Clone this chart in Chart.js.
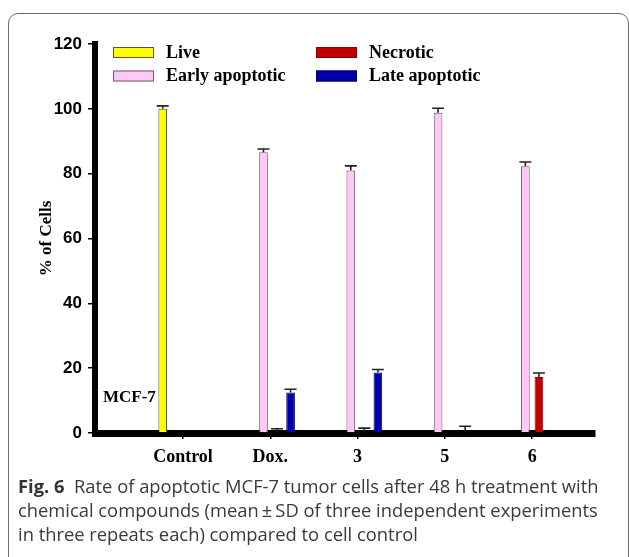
<!DOCTYPE html>
<html>
<head>
<meta charset="utf-8">
<script src="https://cdn.jsdelivr.net/npm/chart.js@4/dist/chart.umd.min.js"></script>
<style>
  html, body { margin:0; padding:0; background:#fff; width:629px; height:557px; overflow:hidden; }
  #frame { position:absolute; left:8px; top:13px; width:619px; height:600px; border:1px solid #6a6a6a; border-radius:10px; box-sizing:content-box; }
  #wrap { position:absolute; left:0; top:0; width:629px; height:485px; }
  #caption { position:absolute; left:18px; top:474px; font-family:"Open Sans", "Noto Sans", sans-serif; font-size:18.35px; line-height:23.8px; color:#3a3a3a; white-space:nowrap; }
  #caption b { font-weight:700; color:#333; }
</style>
</head>
<body>
<div id="frame"></div>
<div id="wrap"><canvas id="c" width="629" height="485"></canvas></div>
<div id="caption"><b>Fig. 6</b>&nbsp; Rate of apoptotic MCF-7 tumor cells after 48 h treatment with<br>chemical compounds (mean&#8201;&plusmn;&#8201;SD of three independent experiments<br>in three repeats each) compared to cell control</div>
<script>
// ---- data ----
const categories = ['Control', 'Dox.', '3', '5', '6'];
const seriesNames = ['Live', 'Early apoptotic', 'Necrotic', 'Late apoptotic'];
const liveVals      = [100,  null, null, null, null];
const liveErr       = [0.9,  null, null, null, null];
const earlyVals     = [null, 86.6, 81.0, 98.8, 82.3];
const earlyErr      = [null, 1.0,  1.4,  1.4,  1.3];
const necroticVals  = [null, 0.4,  0.4,  null, 17.3];
const necroticErr   = [null, 0.9,  1.1,  null, 1.2];
const lateVals      = [null, 12.5, 18.7, 0.5,  null];
const lateErr       = [null, 1.0,  0.9,  1.6,  null];
const yTicks = [0, 20, 40, 60, 80, 100, 120];
const yTitle = '% of Cells';
const cellLine = 'MCF-7';

const values = [liveVals, earlyVals, necroticVals, lateVals];
const errors = [liveErr, earlyErr, necroticErr, lateErr];
const fills   = ['#ffff00', '#ffc8f6', '#c00000', '#0000a8'];
const borders = ['#5a5a30', '#6a5a6a', '#8a0000', '#000060'];

const datasets = seriesNames.map((name, k) => ({
  label: name,
  data: categories.map((c, i) => ({ x: i, y: values[k][i] })),
  errors: errors[k],
  backgroundColor: fills[k],
  borderColor: borders[k],
  borderWidth: 1,
  categoryPercentage: 0.62,
  barPercentage: 0.64
}));

const serif = '"Liberation Serif", "Times New Roman", serif';
const sans = '"Liberation Sans", Arial, sans-serif';

const errorBarPlugin = {
  id: 'errorBars',
  afterDraw(chart) {
    const ctx = chart.ctx;
    const ys = chart.scales.y;
    ctx.save();
    ctx.strokeStyle = '#222';
    ctx.lineWidth = 1.6;
    chart.data.datasets.forEach((ds, k) => {
      const meta = chart.getDatasetMeta(k);
      meta.data.forEach((el, i) => {
        const v = ds.data[i].y;
        const e = ds.errors[i];
        if (v == null || e == null) return;
        const y0 = ys.getPixelForValue(v);
        const y1 = ys.getPixelForValue(v + e);
        ctx.beginPath();
        ctx.moveTo(el.x, y0);
        ctx.lineTo(el.x, y1);
        ctx.moveTo(el.x - 6, y1);
        ctx.lineTo(el.x + 6, y1);
        ctx.stroke();
      });
    });
    ctx.restore();
  }
};

const legendPlugin = {
  id: 'boxLegend',
  afterDraw(chart) {
    const ctx = chart.ctx;
    const a = chart.chartArea;
    ctx.save();
    ctx.font = 'bold 18px ' + serif;
    ctx.textBaseline = 'middle';
    ctx.fillStyle = '#000';
    chart.data.datasets.forEach((ds, k) => {
      const col = Math.floor(k / 2), row = k % 2;
      const bx = a.left + 18 + col * 203;
      const by = 47 + row * 23.5;
      ctx.fillStyle = ds.backgroundColor;
      ctx.fillRect(bx, by, 41, 11);
      ctx.strokeStyle = ds.borderColor;
      ctx.lineWidth = 1;
      ctx.strokeRect(bx + 0.5, by + 0.5, 40, 10);
      ctx.fillStyle = '#000';
      ctx.fillText(ds.label, bx + 53, by + 6);
    });
    ctx.font = 'bold 17px ' + serif;
    ctx.fillText(cellLine, a.left + 8, chart.scales.y.getPixelForValue(10.8));
    ctx.restore();
  }
};

new Chart(document.getElementById('c'), {
  type: 'bar',
  data: { datasets },
  options: {
    responsive: false,
    animation: false,
    devicePixelRatio: 1,
    layout: { padding: { top: 44, right: 34, left: 0, bottom: 0 } },
    plugins: { legend: { display: false }, tooltip: { enabled: false } },
    scales: {
      x: {
        type: 'linear',
        offset: false,
        min: -1.008,
        max: 4.72,
        z: 1,
        ticks: {
          stepSize: 1,
          includeBounds: false,
          autoSkip: false,
          maxRotation: 0,
          padding: 8,
          color: '#000',
          font: { family: serif, weight: 'bold', size: 18 },
          callback: (v) => categories[v] ?? ''
        },
        afterBuildTicks: (s) => { s.ticks = s.ticks.filter(t => Number.isInteger(t.value) && t.value >= 0 && t.value < categories.length); },
        grid: { offset: false, drawOnChartArea: false, drawTicks: true, tickLength: 6, color: '#000', lineWidth: 1.5 },
        border: { display: true, color: '#000', width: 7 },
        afterFit: (s) => { s.height = 52; }
      },
      y: {
        min: 0,
        max: 120,
        z: 1,
        afterBuildTicks: (s) => { s.ticks = yTicks.map(v => ({ value: v })); },
        ticks: {
          stepSize: 20,
          padding: 6,
          color: '#000',
          font: { family: sans, weight: 'bold', size: 17 }
        },
        grid: { drawOnChartArea: false, drawTicks: true, tickLength: 7, color: '#000', lineWidth: 1.5 },
        border: { display: true, color: '#000', width: 6 },
        title: { display: true, text: yTitle, color: '#000', font: { family: serif, weight: 'bold', size: 17 }, padding: { top: 36, bottom: 0 } },
        afterFit: (s) => { s.width = 95; }
      }
    }
  },
  plugins: [errorBarPlugin, legendPlugin]
});
</script>
</body>
</html>
